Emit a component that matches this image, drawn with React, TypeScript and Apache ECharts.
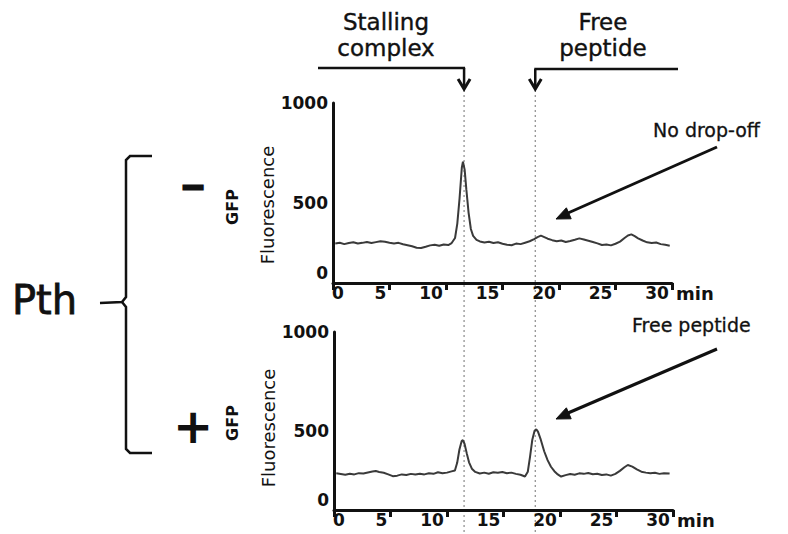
import React, { useEffect, useRef } from "react";
import * as echarts from "echarts";

// ---- data ----
const TIME_TICKS = [0, 5, 10, 15, 20, 25, 30];
const FLUO_TICKS = [0, 500, 1000];

// Pth "−" panel
const minusTimes = [0.2, 0.6, 1.0, 1.4, 1.8, 2.2, 2.6, 3.0, 3.4, 3.8, 4.2, 4.6, 5.0, 5.4, 5.8, 6.2, 6.6, 7.0, 7.4, 7.8, 8.2, 8.6, 9.0, 9.4, 9.8, 10.2, 10.5, 10.8, 11.0, 11.2, 11.4, 11.5, 11.65, 11.8, 12.0, 12.2, 12.4, 12.7, 13.0, 13.4, 13.8, 14.2, 14.6, 15.0, 15.4, 15.8, 16.2, 16.6, 17.0, 17.4, 17.8, 18.1, 18.4, 18.7, 19.0, 19.4, 19.8, 20.2, 20.6, 21.0, 21.4, 21.8, 22.2, 22.6, 23.0, 23.4, 23.8, 24.2, 24.6, 25.0, 25.4, 25.8, 26.1, 26.4, 26.7, 27.0, 27.4, 27.8, 28.2, 28.6, 29.0, 29.4, 29.8];
const minusValues = [220, 224, 216, 222, 226, 219, 223, 228, 222, 227, 232, 229, 224, 220, 223, 215, 210, 204, 196, 194, 201, 209, 213, 207, 214, 211, 222, 250, 330, 470, 640, 674, 630, 520, 390, 300, 262, 240, 231, 225, 229, 222, 226, 218, 213, 210, 219, 216, 224, 232, 244, 255, 263, 255, 246, 238, 232, 236, 228, 233, 240, 248, 242, 235, 228, 220, 211, 214, 209, 218, 230, 250, 264, 270, 260, 248, 236, 226, 222, 225, 216, 212, 207];

// Pth "+" panel
const plusTimes = [0.2, 0.6, 1.0, 1.4, 1.8, 2.2, 2.6, 3.0, 3.4, 3.7, 4.0, 4.4, 4.8, 5.2, 5.6, 6.0, 6.4, 6.8, 7.2, 7.6, 8.0, 8.4, 8.8, 9.2, 9.6, 10.0, 10.4, 10.7, 10.9, 11.1, 11.3, 11.4, 11.55, 11.75, 11.95, 12.2, 12.5, 12.9, 13.3, 13.7, 14.1, 14.5, 14.9, 15.3, 15.7, 16.1, 16.5, 16.9, 17.15, 17.35, 17.55, 17.75, 17.9, 18.05, 18.3, 18.6, 18.9, 19.2, 19.5, 19.8, 20.1, 20.5, 20.9, 21.3, 21.7, 22.1, 22.5, 22.9, 23.3, 23.7, 24.1, 24.5, 24.9, 25.3, 25.7, 26.0, 26.4, 26.8, 27.2, 27.6, 28.0, 28.4, 28.8, 29.2, 29.7];
const plusValues = [206, 202, 198, 204, 200, 207, 205, 211, 216, 219, 214, 209, 200, 190, 193, 200, 197, 203, 199, 204, 200, 206, 203, 212, 206, 210, 217, 222, 265, 340, 388, 393, 372, 318, 268, 232, 214, 205, 210, 204, 212, 209, 213, 207, 210, 203, 198, 188, 215, 300, 395, 445, 453, 440, 395, 330, 280, 243, 218, 200, 188, 196, 202, 198, 206, 203, 208, 201, 204, 197, 200, 193, 203, 220, 240, 253, 244, 228, 215, 210, 206, 209, 203, 207, 205];

// elution positions marked by the dotted guide lines (min)
const STALLING_MIN = 11.6;
const FREE_MIN = 17.9;

const FONT = "DejaVu Sans";
const INK = "#111";

const zip = (xs: number[], ys: number[]) => xs.map((x, i) => [x, ys[i]]);

const xLabelFormatter = (v: number) => (v === 0 ? `{a|0}` : v === 5 ? `{b|5}` : `{c|${v}}`);
const xLabelBase = { fontFamily: FONT, fontSize: 17, fontWeight: "bold", color: INK };
const xRich = {
  a: { ...xLabelBase, padding: [0, 0, 0, 10] },
  b: { ...xLabelBase, padding: [0, 18, 0, 0] },
  c: { ...xLabelBase, padding: [0, 30, 0, 0] },
};
const yLabelFormatter = (v: number) => (v === 0 ? `{z|0}` : v === 500 ? `{m|500}` : `{t|${v}}`);
const yRich = {
  z: { ...xLabelBase, padding: [0, 0, 20, 0] },
  m: { ...xLabelBase, padding: [20, 0, 0, 0] },
  t: { ...xLabelBase },
};

function makeX(gridIndex: number) {
  return {
    type: "value",
    gridIndex,
    min: TIME_TICKS[0],
    max: TIME_TICKS[TIME_TICKS.length - 1],
    interval: TIME_TICKS[1] - TIME_TICKS[0],
    axisLine: { show: true, onZero: false, lineStyle: { color: INK, width: 3 } },
    axisTick: { show: true, inside: false, length: 7, lineStyle: { color: INK, width: 3 } },
    axisLabel: { margin: 1, formatter: xLabelFormatter, rich: xRich },
    splitLine: { show: false },
    name: "min",
    nameLocation: "end",
    nameGap: 4,
    nameTextStyle: { fontFamily: FONT, fontSize: 18, fontWeight: "bold", color: INK, verticalAlign: "top", padding: [1, 0, 0, 0] },
  };
}

function makeY(gridIndex: number, namePad: number) {
  return {
    type: "value",
    gridIndex,
    min: FLUO_TICKS[0],
    max: FLUO_TICKS[FLUO_TICKS.length - 1],
    interval: FLUO_TICKS[1] - FLUO_TICKS[0],
    axisLine: { show: true, lineStyle: { color: INK, width: 3 } },
    axisTick: { show: false },
    splitLine: { show: false },
    axisLabel: { margin: 5, formatter: yLabelFormatter, rich: yRich },
    name: "Fluorescence",
    nameLocation: "middle",
    nameRotate: 90,
    nameGap: 52,
    nameTextStyle: { fontFamily: FONT, fontSize: 18, color: INK, padding: [0, namePad, 0, 0] },
  };
}

export default function App() {
  const ref = useRef<HTMLDivElement>(null);
  useEffect(() => {
    if (!ref.current) return;
    const chart = echarts.init(ref.current, undefined, { renderer: "svg" });
    chart.setOption({
      animation: false,
      backgroundColor: "#fff",
      grid: [
        { left: 333, top: 103, width: 339, height: 180 },
        { left: 334, top: 332, width: 339, height: 178 },
      ],
      xAxis: [makeX(0), makeX(1)],
      yAxis: [makeY(0, 24), makeY(1, 14)],
      series: [
        {
          name: "Pth −",
          type: "line",
          xAxisIndex: 0,
          yAxisIndex: 0,
          data: zip(minusTimes, minusValues),
          showSymbol: false,
          z: 3,
          lineStyle: { color: "#3a3a3a", width: 2 },
        },
        {
          name: "Pth +",
          type: "line",
          xAxisIndex: 1,
          yAxisIndex: 1,
          data: zip(plusTimes, plusValues),
          showSymbol: false,
          z: 3,
          lineStyle: { color: "#3a3a3a", width: 2 },
        },
      ],
    });

    const xs = chart.convertToPixel({ xAxisIndex: 0 }, STALLING_MIN) as unknown as number;
    const xf = chart.convertToPixel({ xAxisIndex: 0 }, FREE_MIN) as unknown as number;

    const txt = (text: string, x: number, y: number, size: number, opts: any = {}) => ({
      type: "text",
      x,
      y,
      rotation: opts.rotation || 0,
      style: {
        text,
        fill: INK,
        fontFamily: FONT,
        fontSize: size,
        fontWeight: opts.weight || "normal",
        align: opts.align || "left",
        verticalAlign: "middle",
        textAlign: opts.align || "left",
        textVerticalAlign: "middle",
        lineHeight: opts.lineHeight,
        stroke: opts.stroke ? INK : undefined,
        lineWidth: opts.stroke || 0,
      },
    });
    const ln = (x1: number, y1: number, x2: number, y2: number, w = 2.5, extra: any = {}) => ({
      type: "line",
      shape: { x1, y1, x2, y2 },
      style: { stroke: INK, lineWidth: w, ...extra },
    });
    const pl = (points: number[][], w = 2.5) => ({
      type: "polyline",
      shape: { points },
      style: { stroke: INK, lineWidth: w, fill: "none" },
    });
    const head = (points: number[][]) => ({
      type: "polygon",
      shape: { points },
      style: { fill: INK, stroke: INK, lineWidth: 1 },
    });

    chart.setOption({
      graphic: [
        // dotted guides
        ln(xs, 90, xs, 534, 1.2, { stroke: "#8a8a8a", lineDash: [2, 3] }),
        ln(xf, 90, xf, 534, 1.2, { stroke: "#8a8a8a", lineDash: [2, 3] }),
        // header brackets
        txt("Stalling\ncomplex", 386, 35, 23, { align: "center", lineHeight: 26, stroke: 0.4 }),
        txt("Free\npeptide", 603, 35, 23, { align: "center", lineHeight: 26, stroke: 0.4 }),
        ln(318, 68, xs + 1, 68),
        ln(xs, 68, xs, 88),
        pl([[xs - 6, 79], [xs, 89], [xs + 6, 79]], 3),
        ln(xf - 1, 69, 678, 69),
        ln(xf, 69, xf, 88),
        pl([[xf - 6, 79], [xf, 89], [xf + 6, 79]], 3),
        // left brace and labels
        txt("Pth", 12, 300, 40, { stroke: 0.8 }),
        pl([[152, 156], [130, 156], [126, 160], [126, 297], [122, 302], [100, 303]]),
        pl([[122, 302], [126, 307], [126, 449], [130, 453], [152, 453]]),
        txt("−", 193, 186, 30, { align: "center", weight: "bold", stroke: 2.5 }),
        txt("+", 193, 426, 48, { align: "center", weight: "bold" }),
        txt("GFP", 232, 207, 16, { align: "center", weight: "bold", rotation: Math.PI / 2 }),
        txt("GFP", 232, 423, 16, { align: "center", weight: "bold", rotation: Math.PI / 2 }),
        // annotation arrows
        txt("No drop-off", 653, 130, 19, { stroke: 0.3 }),
        ln(717, 147, 568, 213, 3),
        head([[556, 219], [571.2, 218.8], [566.4, 207.8]]),
        txt("Free peptide", 632, 325, 19, { stroke: 0.3 }),
        ln(717, 349, 568, 413, 3),
        head([[556, 419], [571.2, 418.8], [566.4, 407.8]]),
      ],
    });

    return () => chart.dispose();
  }, []);

  return (
    <div
      ref={ref}
      style={{ position: "fixed", left: 0, top: 0, width: 788, height: 534, background: "#fff" }}
    />
  );
}
